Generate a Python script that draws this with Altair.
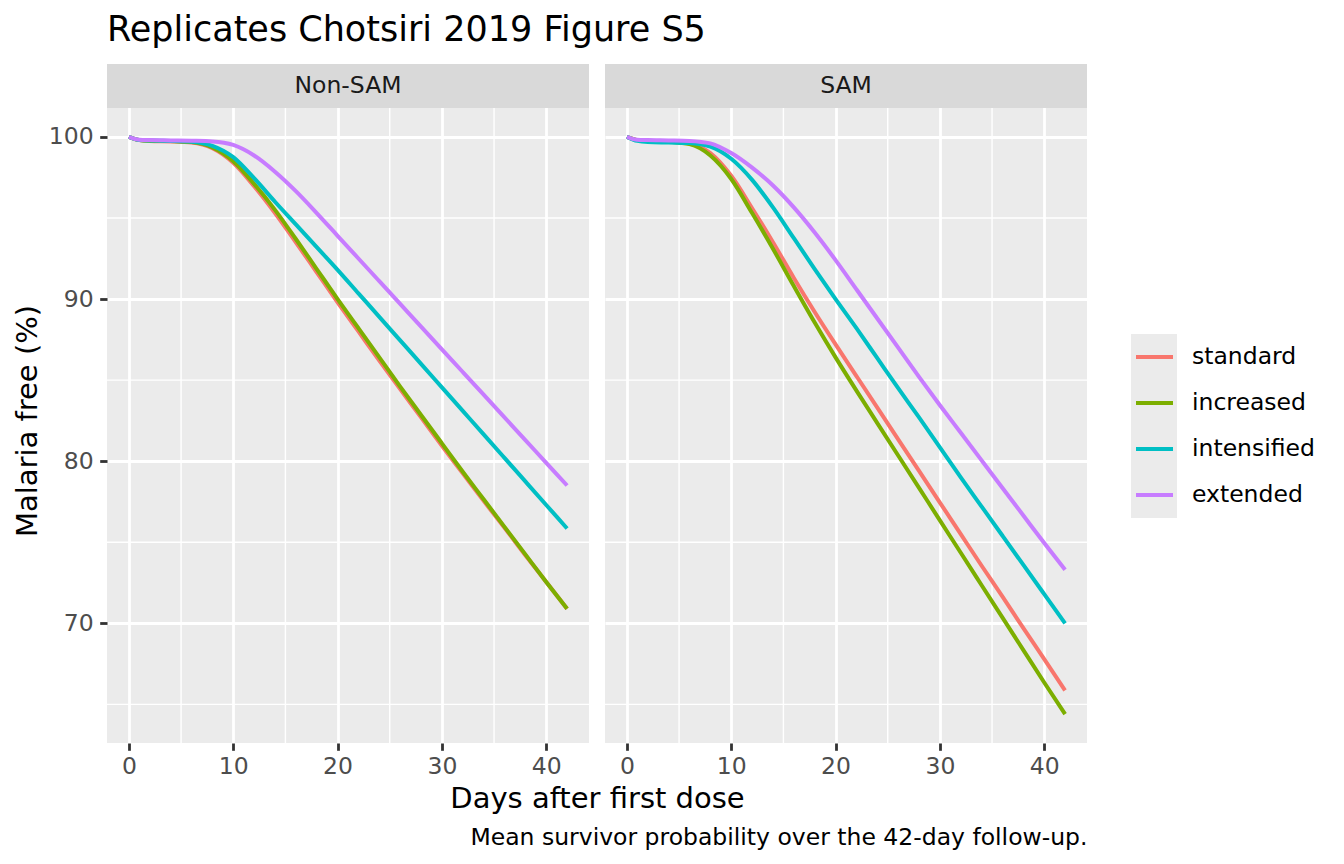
import altair as alt
import pandas as pd

FONT = "DejaVu Sans"

# ---- data ----
days = [0, 1, 2, 4, 6, 8, 10, 12, 14, 16, 18, 20, 22, 24, 26, 28, 30, 32, 34, 36, 38, 40, 42]

series_names = ["standard", "increased", "intensified", "extended"]
series_colors = ["#F8766D", "#7CAE00", "#00BFC4", "#C77CFF"]
panel_names = ["Non-SAM", "SAM"]

ns_standard = [100.0, 99.8, 99.75, 99.72, 99.65, 99.3, 98.4, 96.95, 95.3, 93.5, 91.65, 89.8, 88.0, 86.2, 84.45, 82.7, 80.95, 79.25, 77.55, 75.9, 74.2, 72.55, 70.9]
ns_increased = [100.0, 99.8, 99.76, 99.74, 99.68, 99.35, 98.5, 97.1, 95.5, 93.7, 91.85, 90.0, 88.2, 86.4, 84.6, 82.85, 81.1, 79.35, 77.65, 75.95, 74.25, 72.55, 70.9]
ns_intensified = [100.0, 99.8, 99.77, 99.75, 99.7, 99.45, 98.75, 97.45, 96.0, 94.6, 93.2, 91.8, 90.35, 88.9, 87.45, 86.0, 84.55, 83.1, 81.65, 80.2, 78.75, 77.3, 75.85]
ns_extended = [100.0, 99.82, 99.8, 99.78, 99.76, 99.72, 99.5, 98.85, 97.85, 96.65, 95.3, 93.9, 92.5, 91.1, 89.7, 88.3, 86.9, 85.5, 84.1, 82.7, 81.3, 79.9, 78.5]

sam_standard = [100.0, 99.8, 99.75, 99.72, 99.6, 99.0, 97.6, 95.6, 93.5, 91.3, 89.2, 87.2, 85.25, 83.3, 81.35, 79.4, 77.45, 75.5, 73.55, 71.65, 69.7, 67.8, 65.86]
sam_increased = [100.0, 99.8, 99.75, 99.7, 99.55, 98.85, 97.4, 95.3, 93.1, 90.8, 88.55, 86.4, 84.35, 82.35, 80.35, 78.35, 76.35, 74.35, 72.35, 70.35, 68.35, 66.35, 64.4]
sam_intensified = [100.0, 99.75, 99.68, 99.65, 99.62, 99.4, 98.65, 97.35, 95.65, 93.75, 91.85, 90.0, 88.2, 86.35, 84.5, 82.7, 80.85, 79.0, 77.2, 75.4, 73.6, 71.8, 70.0]
sam_extended = [100.0, 99.82, 99.8, 99.78, 99.75, 99.6, 99.0, 98.1, 97.0, 95.65, 94.1, 92.4, 90.6, 88.8, 87.0, 85.2, 83.45, 81.75, 80.05, 78.35, 76.65, 74.95, 73.3]

x_ticks = [0, 10, 20, 30, 40]
x_minor = [5, 15, 25, 35]
y_ticks = [70, 80, 90, 100]
y_minor = [65, 75, 85, 95]

title_text = "Replicates Chotsiri 2019 Figure S5"
x_title = "Days after first dose"
y_title = "Malaria free (%)"
caption_text = "Mean survivor probability over the 42-day follow-up."

tables = {
    "Non-SAM": [ns_standard, ns_increased, ns_intensified, ns_extended],
    "SAM": [sam_standard, sam_increased, sam_intensified, sam_extended],
}
rows = []
for p in panel_names:
    for s, vals in zip(series_names, tables[p]):
        for d, v in zip(days, vals):
            rows.append({"panel": p, "series": s, "day": d, "value": v})
df = pd.DataFrame(rows)

# ---- layout constants (pixels) ----
PW, PH, SH = 482, 635, 44          # panel width, panel height, strip height
TOTAL_H = PH + SH

# y domain extended upward so that the strip sits inside the view above the panel
y_lo, y_hi = 62.62, 101.78
y_top = y_hi + SH * (y_hi - y_lo) / PH

x_scale = alt.Scale(domain=[-2.1, 44.1], nice=False, zero=False)
y_scale = alt.Scale(domain=[y_lo, y_top], nice=False, zero=False)
color_scale = alt.Scale(domain=series_names, range=series_colors)

tick_style = dict(tickColor="#333333", tickWidth=2.8, tickSize=7.3,
                  labelFont=FONT, labelFontSize=23.5, labelColor="#4D4D4D")
grid_style = dict(grid=True, gridColor="white", gridWidth=2.8, domain=False)


def panel_plot(name, left):
    if left:
        x_axis = alt.Axis(values=x_ticks, title=x_title, titleX=PW + 8, titleY=64.7,
                          titleAlign="center", titleBaseline="alphabetic", titleFont=FONT,
                          titleFontSize=29, titleFontWeight="normal", titleColor="black",
                          labelPadding=4.3, **tick_style, **grid_style)
        y_axis = alt.Axis(values=y_ticks, title=y_title, titleX=-71, titleY=SH + PH / 2 - 5,
                          titleAngle=270, titleAlign="center", titleBaseline="alphabetic",
                          titleFont=FONT, titleFontSize=29, titleFontWeight="normal",
                          titleColor="black", labelPadding=6.6, **tick_style, **grid_style)
    else:
        x_axis = alt.Axis(values=x_ticks, title=caption_text, titleX=PW, titleY=101.3,
                          titleAlign="right", titleBaseline="alphabetic", titleFont=FONT,
                          titleFontSize=23.5, titleFontWeight="normal", titleColor="black",
                          labelPadding=4.3, **tick_style, **grid_style)
        y_axis = alt.Axis(values=y_ticks, title="", labels=False, ticks=False, **grid_style)

    strip_df = pd.DataFrame({"panel": [name]})
    vminor = alt.Chart(pd.DataFrame({"xm": x_minor})).mark_rule(color="white", strokeWidth=1.4).encode(
        x=alt.X("xm:Q", scale=x_scale, axis=x_axis))
    hminor = alt.Chart(pd.DataFrame({"ym": y_minor})).mark_rule(color="white", strokeWidth=1.4).encode(
        y=alt.Y("ym:Q", scale=y_scale, axis=y_axis))
    strip_bg = alt.Chart(strip_df).mark_rect(color="#D9D9D9").encode(
        x=alt.value(0), x2=alt.value(PW), y=alt.value(0), y2=alt.value(SH))
    strip_tx = alt.Chart(strip_df).mark_text(
        font=FONT, fontSize=23.5, color="#1A1A1A", align="center", baseline="middle"
    ).encode(text="panel:N", x=alt.value(PW / 2), y=alt.value(SH / 2))
    lines = alt.Chart(df[df["panel"] == name]).mark_line(strokeWidth=4.0, interpolate="monotone").encode(
        x=alt.X("day:Q", scale=x_scale, axis=x_axis),
        y=alt.Y("value:Q", scale=y_scale, axis=y_axis),
        color=alt.Color("series:N", scale=color_scale, legend=None),
    )
    return alt.layer(vminor, hminor, strip_bg, strip_tx, lines).properties(
        width=PW, height=TOTAL_H, view=alt.ViewBackground(fill="#EBEBEB", strokeWidth=0))


# ---- legend built as a small chart ----
LEG_OFF = 28
leg_df = pd.DataFrame({"series": series_names})
leg_scale = alt.Scale(type="band", domain=series_names, range=[270, 454], paddingInner=0, paddingOuter=0)
leg_bg = alt.Chart(leg_df).mark_rect(color="#EBEBEB").encode(
    y=alt.Y("series:N", scale=leg_scale, axis=None),
    x=alt.value(LEG_OFF), x2=alt.value(LEG_OFF + 46))
leg_keys = alt.Chart(leg_df).mark_rule(strokeWidth=3.8).encode(
    y=alt.Y("series:N", scale=leg_scale, axis=None, bandPosition=0.5),
    x=alt.value(LEG_OFF + 5), x2=alt.value(LEG_OFF + 42),
    color=alt.Color("series:N", scale=color_scale, legend=None))
leg_text = alt.Chart(leg_df).mark_text(align="left", baseline="middle", font=FONT,
                                       fontSize=23.5, color="black").encode(
    y=alt.Y("series:N", scale=leg_scale, axis=None, bandPosition=0.5),
    x=alt.value(LEG_OFF + 61), text="series:N")
legend = alt.layer(leg_bg, leg_keys, leg_text).properties(
    width=LEG_OFF + 46, height=TOTAL_H, view=alt.ViewBackground(fill="transparent", strokeWidth=0))

chart = alt.hconcat(
    panel_plot("Non-SAM", True), panel_plot("SAM", False), legend,
    spacing=16, bounds="flush",
    title=alt.TitleParams(title_text, anchor="start", frame="group", font=FONT,
                          fontSize=35, fontWeight="normal", color="black",
                          baseline="alphabetic", offset=-13),
).properties(
    padding={"left": 5, "top": 5, "right": 5, "bottom": 5}, background="white"
).configure_view(strokeWidth=0)

chart.save("out.html", embed_options={"renderer": "svg", "actions": False})
